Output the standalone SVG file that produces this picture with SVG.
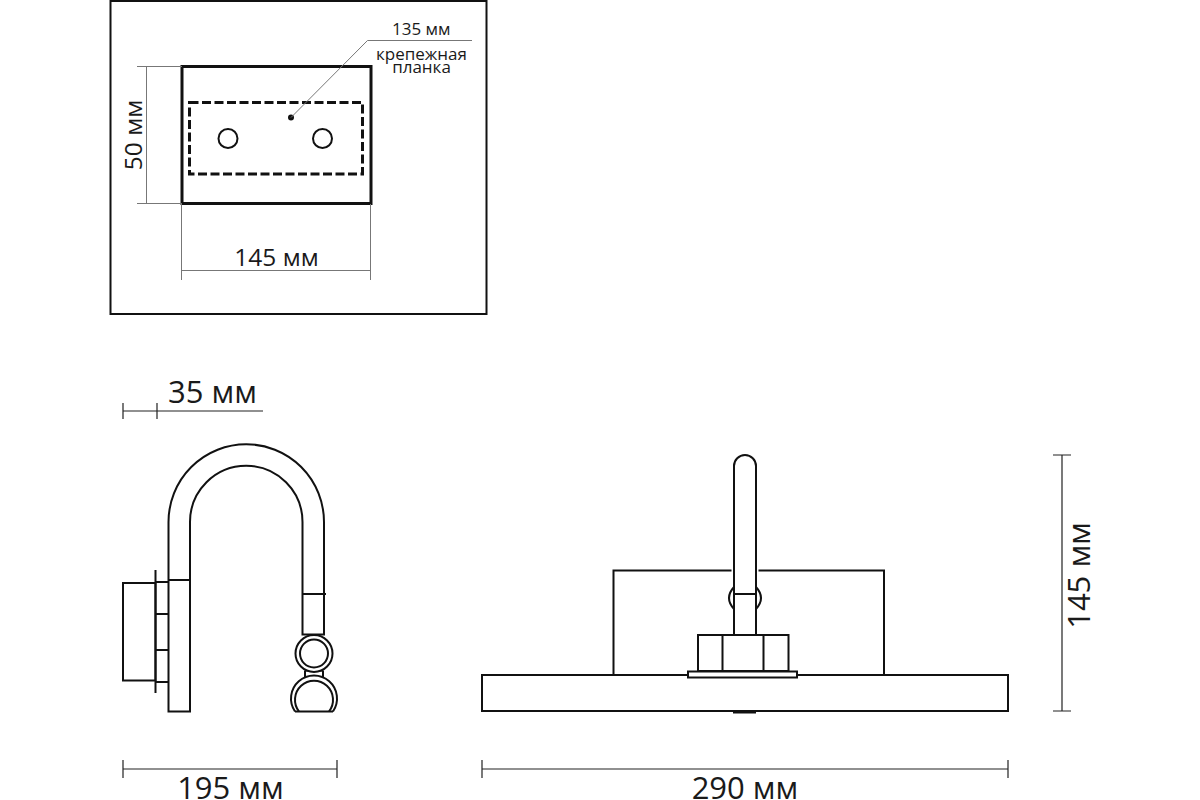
<svg xmlns="http://www.w3.org/2000/svg" width="1200" height="800" viewBox="0 0 1200 800">
<style>
text{font-family:"Open Sans","Noto Sans","Liberation Sans",sans-serif;fill:#1a1a1a}
.o{fill:none;stroke:#111;stroke-width:2}
.w{fill:#fff;stroke:#111;stroke-width:2}
.d{fill:none;stroke:#777;stroke-width:1}
.k{fill:none;stroke:#222;stroke-width:1.2}
.big{font-size:31px}
.mid{font-size:24.500px}
.sm{font-size:17px}
</style>
<rect width="1200" height="800" fill="#fff"/>
<g id="plan-view">
<rect x="110.500" y="1" width="376" height="313" fill="none" stroke="#111" stroke-width="2"/>
<rect x="182" y="66.500" width="189" height="137" fill="none" stroke="#111" stroke-width="3"/>
<rect x="189.500" y="102.500" width="173" height="71.500" fill="none" stroke="#111" stroke-width="3" stroke-dasharray="9 3.500"/>
<circle cx="228" cy="138.500" r="9.500" class="o"/>
<circle cx="322.500" cy="138.500" r="9.500" class="o"/>
<circle cx="291" cy="117.500" r="3" fill="#111"/>
</g>
<g id="connectors">
<path class="d" d="M291 117.500L367.500 40.500H472"/>
<path class="d" d="M137 66.500H182M137 203.500H182M146.500 66.500V203.500"/>
<path class="d" d="M181.500 204V280M370.500 204V280M181.500 270.500H370.500"/>
<path class="k" d="M123 403V419M157 403V419M123 411H263"/>
<path class="k" d="M123 760V778M337 760V778M123 769H337"/>
<path class="k" d="M482 760V778M1008 760V778M482 769H1008"/>
<path class="k" d="M1053 455H1071M1053 711H1071M1062 455V711"/>
</g>
<g id="side-view">
<path class="o" d="M168.500 711.500V522A77.750 77.750 0 0 1 324 522V634.500H302.500V522A56.250 56.250 0 0 0 190 522V711.500Z"/>
<path class="o" d="M168.500 580H190M302.500 594H326"/>
<rect x="123" y="583" width="32.500" height="97.500" class="o"/>
<path class="o" d="M155.500 570V693M155.500 582H168.500M155.500 614H168.500M155.500 650H168.500M155.500 682H168.500"/>
<path class="o" d="M305 670.500H323M305 677H323M305 670.500V677M323 670.500V677"/>
<circle cx="314" cy="653.500" r="18.500" class="w"/>
<circle cx="314" cy="653.500" r="14" class="o"/>
<path class="w" d="M295 711.500A23 23 0 1 1 333 711.500"/>
<path class="o" d="M299 711.500A19 19 0 1 1 329 711.500"/>
<path class="o" d="M295 711.500H333"/>
</g>
<g id="front-view">
<rect x="613.500" y="570.500" width="270.500" height="104.500" class="o"/>
<rect x="482" y="675" width="526" height="36" class="w"/>
<path d="M733 712.500H756" fill="none" stroke="#111" stroke-width="2"/>
<path d="M731.500 568H758.500V600H731.500Z" fill="#fff"/>
<path class="o" d="M734 587Q724 598 734 609M756 587Q766 598 756 609"/>
<path class="w" d="M734 635V466A11 11 0 0 1 756 466V635Z"/>
<path class="o" d="M734 594H756"/>
<rect x="698" y="635" width="90.500" height="36" class="w"/>
<path class="o" d="M722.500 635V671M763.500 635V671"/>
<rect x="688" y="671.500" width="109" height="6" class="w"/>
</g>
<g id="labels">
<text x="392" y="35" class="sm">135 мм</text>
<text class="sm" text-anchor="middle"><tspan x="421.500" y="59.500">крепежная</tspan><tspan x="421.500" y="72.500">планка</tspan></text>
<text x="276.500" y="266" class="mid" text-anchor="middle">145 мм</text>
<text transform="translate(142 135) rotate(-90)" class="mid" text-anchor="middle">50 мм</text>
<text x="212.500" y="403" class="big" text-anchor="middle">35 мм</text>
<text x="230.500" y="799" class="big" text-anchor="middle">195 мм</text>
<text x="745" y="799" class="big" text-anchor="middle">290 мм</text>
<text transform="translate(1090 575.500) rotate(-90)" class="big" text-anchor="middle">145 мм</text>
</g>
</svg>
